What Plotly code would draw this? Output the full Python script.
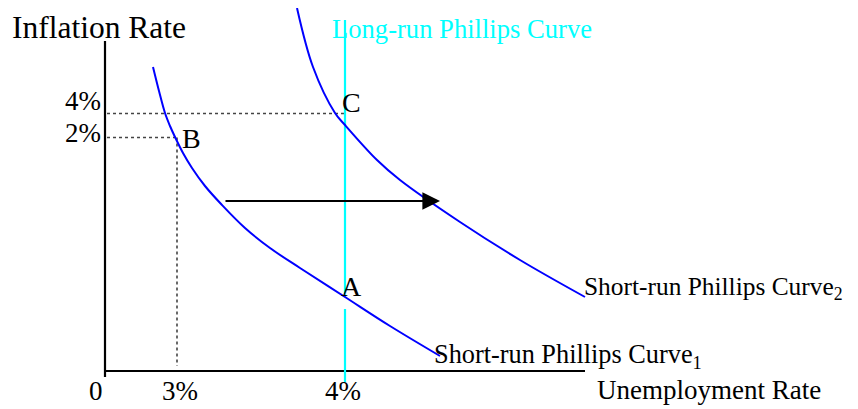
import plotly.graph_objects as go

# Diagram units: origin at the corner of the two axes (x right, y up)
srpc1_unemp = [48, 54, 60, 65, 70, 78, 87, 100, 117, 140, 165, 195, 240, 285, 335]
srpc1_infl = [304, 280, 258, 245, 234, 218, 203, 185, 166, 143, 123, 103, 74, 45, 15]
srpc2_unemp = [192, 208, 230, 240, 272, 295, 355, 415, 480]
srpc2_infl = [363, 304, 258, 246, 211, 191, 149, 111, 74]

natural_rate = 240          # 4% unemployment (long-run curve)
unemp_B = 72                # 3% unemployment
infl_C = 257.5              # 4% inflation
infl_B = 233.5              # 2% inflation
lrpc_top, lrpc_gap_hi, lrpc_gap_lo, lrpc_bottom = 351, 74, 62, -11
axis_x_end, axis_y_end = 480, 330
shift_from, shift_to, shift_level = 119, 335, 170

x_ticks = ["0", "3%", "4%"]
y_ticks = ["4%", "2%"]
points = ["A", "B", "C"]

FONT = "Liberation Serif, Times New Roman, serif"
BLUE = "#0000ff"
CYAN = "#00ffff"
DOT = "#444444"

fig = go.Figure()

def line(xs, ys, color, width, dash="solid"):
    fig.add_trace(go.Scatter(x=xs, y=ys, mode="lines",
                             line=dict(color=color, width=width, dash=dash),
                             hoverinfo="skip", showlegend=False))

# axes
line([0, 0], [axis_y_end, -6], "black", 2.2)
line([0, axis_x_end], [0, 0], "black", 2.2)

# dotted guide lines
line([2, natural_rate], [infl_C, infl_C], DOT, 1.6, "dot")
line([2, unemp_B], [infl_B, infl_B], DOT, 1.6, "dot")
line([unemp_B, unemp_B], [infl_B, 5], DOT, 1.6, "dot")

# long-run Phillips curve (interrupted behind label A)
line([natural_rate, natural_rate], [lrpc_top, lrpc_gap_hi], CYAN, 2.2)
line([natural_rate, natural_rate], [lrpc_gap_lo, lrpc_bottom], CYAN, 2.2)

# short-run Phillips curves
fig.add_trace(go.Scatter(x=srpc1_unemp, y=srpc1_infl, mode="lines",
                         line=dict(color=BLUE, width=2, shape="spline", smoothing=1.0),
                         hoverinfo="skip", showlegend=False))
fig.add_trace(go.Scatter(x=srpc2_unemp, y=srpc2_infl, mode="lines",
                         line=dict(color=BLUE, width=2, shape="spline", smoothing=1.0),
                         hoverinfo="skip", showlegend=False))

# shift arrow
fig.add_annotation(x=shift_to, y=shift_level, ax=shift_from, ay=shift_level,
                   xref="x", yref="y", axref="x", ayref="y", text="",
                   showarrow=True, arrowhead=2, arrowsize=1.6, arrowwidth=2.2,
                   arrowcolor="black")

def label(text, x, y, size, xanchor="left", color="black"):
    fig.add_annotation(x=x, y=y, xref="x", yref="y", text=text, showarrow=False,
                       xanchor=xanchor, yanchor="middle",
                       font=dict(family=FONT, size=size, color=color))

label("Inflation Rate", -95, 344, 31.5)
label("Long-run Phillips Curve", 225, 342, 26.6, color=CYAN)
label(y_ticks[0], -2, 270, 27, xanchor="right")
label(y_ticks[1], -2, 238, 27, xanchor="right")
label(points[1], 75, 233, 28)
label(points[2], 235, 269, 28)
label(points[0], 234, 85, 28)
label(x_ticks[0], -9, -20, 27, xanchor="center")
label(x_ticks[1], 75, -20, 27, xanchor="center")
label(x_ticks[2], 238, -20, 27, xanchor="center")
label("Unemployment Rate", 490, -19, 27)
label("Short-run Phillips Curve<sub>2</sub>", 477, 83, 25.4)
label("Short-run Phillips Curve<sub>1</sub>", 327, 15, 26.3)

# the page adds an 8px body margin, so the figure is 8px smaller each way
fig.update_layout(
    width=850, height=401,
    margin=dict(l=0, r=0, t=0, b=0),
    paper_bgcolor="white", plot_bgcolor="white",
    xaxis=dict(range=[-97, 753], visible=False, fixedrange=True),
    yaxis=dict(range=[-38, 363], visible=False, fixedrange=True),
    showlegend=False,
)

fig.write_html("out.html")
